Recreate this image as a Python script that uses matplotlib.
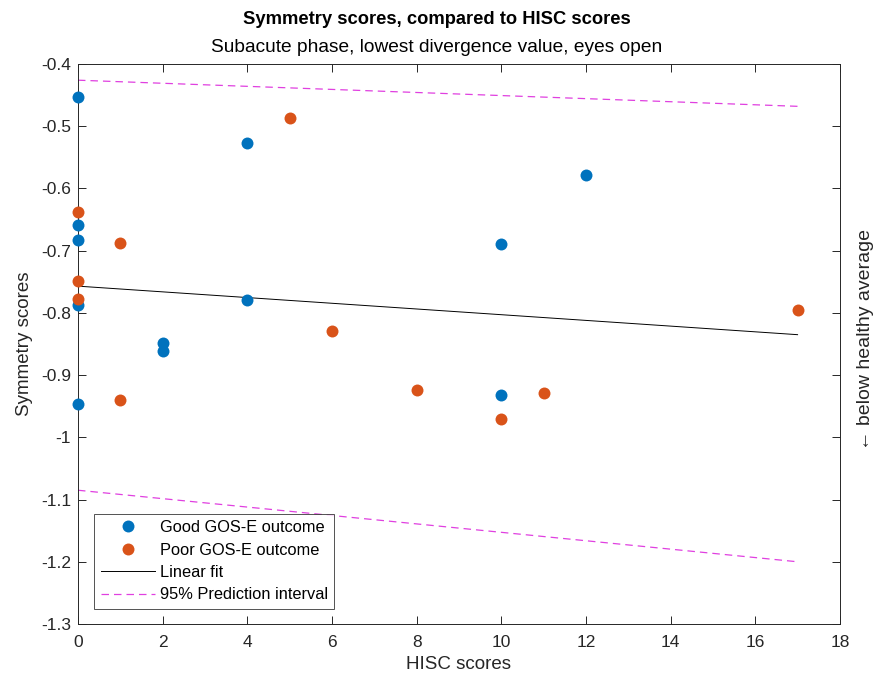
import numpy as np
import matplotlib
matplotlib.use("Agg")
import matplotlib.pyplot as plt
from matplotlib.ticker import FuncFormatter

plt.rcParams['font.family'] = ['Liberation Sans', 'DejaVu Sans']
plt.rcParams['axes.unicode_minus'] = False

# HISC scores vs symmetry scores, split by GOS-E outcome
good_x = [0, 0, 0, 0, 0, 2, 2, 4, 4, 10, 10, 12]
good_y = [-0.453, -0.659, -0.683, -0.787, -0.946, -0.848, -0.861,
          -0.527, -0.779, -0.689, -0.932, -0.578]
poor_x = [0, 0, 0, 1, 1, 5, 6, 8, 10, 11, 17]
poor_y = [-0.638, -0.749, -0.778, -0.688, -0.940, -0.487, -0.829,
          -0.924, -0.970, -0.929, -0.795]

# fitted line and 95% prediction bounds
fit_x = [0, 17]
fit_y = [-0.757, -0.835]
pi_upper = [-0.426, -0.468]
pi_lower = [-1.085, -1.200]

blue = '#0072BD'
orange = '#D95319'
edge = '#262626'

fig = plt.figure(figsize=(8.74, 6.81), dpi=100)
ax = fig.add_axes([0.0892, 0.0837, 0.8718, 0.8223])

ax.plot(good_x, good_y, 'o', color=blue, markersize=8.6, markeredgewidth=0,
        label='Good GOS-E outcome', zorder=3, clip_on=False)
ax.plot(poor_x, poor_y, 'o', color=orange, markersize=8.6, markeredgewidth=0,
        label='Poor GOS-E outcome', zorder=3, clip_on=False)
ax.plot(fit_x, fit_y, '-', color='black', linewidth=0.7, label='Linear fit')
ax.plot(fit_x, pi_upper, '--', color='#E040E0', linewidth=0.9,
        dashes=(6, 4), label='95% Prediction interval')
ax.plot(fit_x, pi_lower, '--', color='#E040E0', linewidth=0.9, dashes=(6, 4))

ax.set_xlim(0, 18)
ax.set_ylim(-1.3, -0.4)
ax.set_xticks(np.arange(0, 19, 2))
ax.set_yticks(np.round(np.arange(-1.3, -0.35, 0.1), 1))
ax.yaxis.set_major_formatter(FuncFormatter(lambda v, p: '%g' % round(v, 1)))

ax.tick_params(direction='in', length=6, width=0.7, color=edge,
               top=True, right=True, labelsize=12.5, labelcolor=edge)
ax.tick_params(axis='x', pad=8)
ax.tick_params(axis='y', pad=5)
for s in ax.spines.values():
    s.set_color(edge)
    s.set_linewidth(0.7)

ax.set_xlabel('HISC scores', fontsize=13.5, color=edge, labelpad=4)
ax.set_ylabel('Symmetry scores', fontsize=13.5, color=edge, labelpad=6)

fig.text(0.5, 0.972, 'Symmetry scores, compared to HISC scores',
         ha='center', va='center', fontsize=13.2, fontweight='bold')
fig.text(0.5, 0.930, 'Subacute phase, lowest divergence value, eyes open',
         ha='center', va='center', fontsize=13.8)
fig.text(0.99, 0.502, '\u2190 below healthy average', rotation=90,
         ha='center', va='center', fontsize=14, color=edge)

leg = ax.legend(loc='lower left', bbox_to_anchor=(0.021, 0.027),
                fontsize=11.8, frameon=True, fancybox=False,
                borderpad=0.4, labelspacing=0.45, handlelength=3.3,
                handletextpad=0.3, borderaxespad=0)
leg.get_frame().set_edgecolor(edge)
leg.get_frame().set_linewidth(0.7)

fig.savefig('out.png', dpi=100)
